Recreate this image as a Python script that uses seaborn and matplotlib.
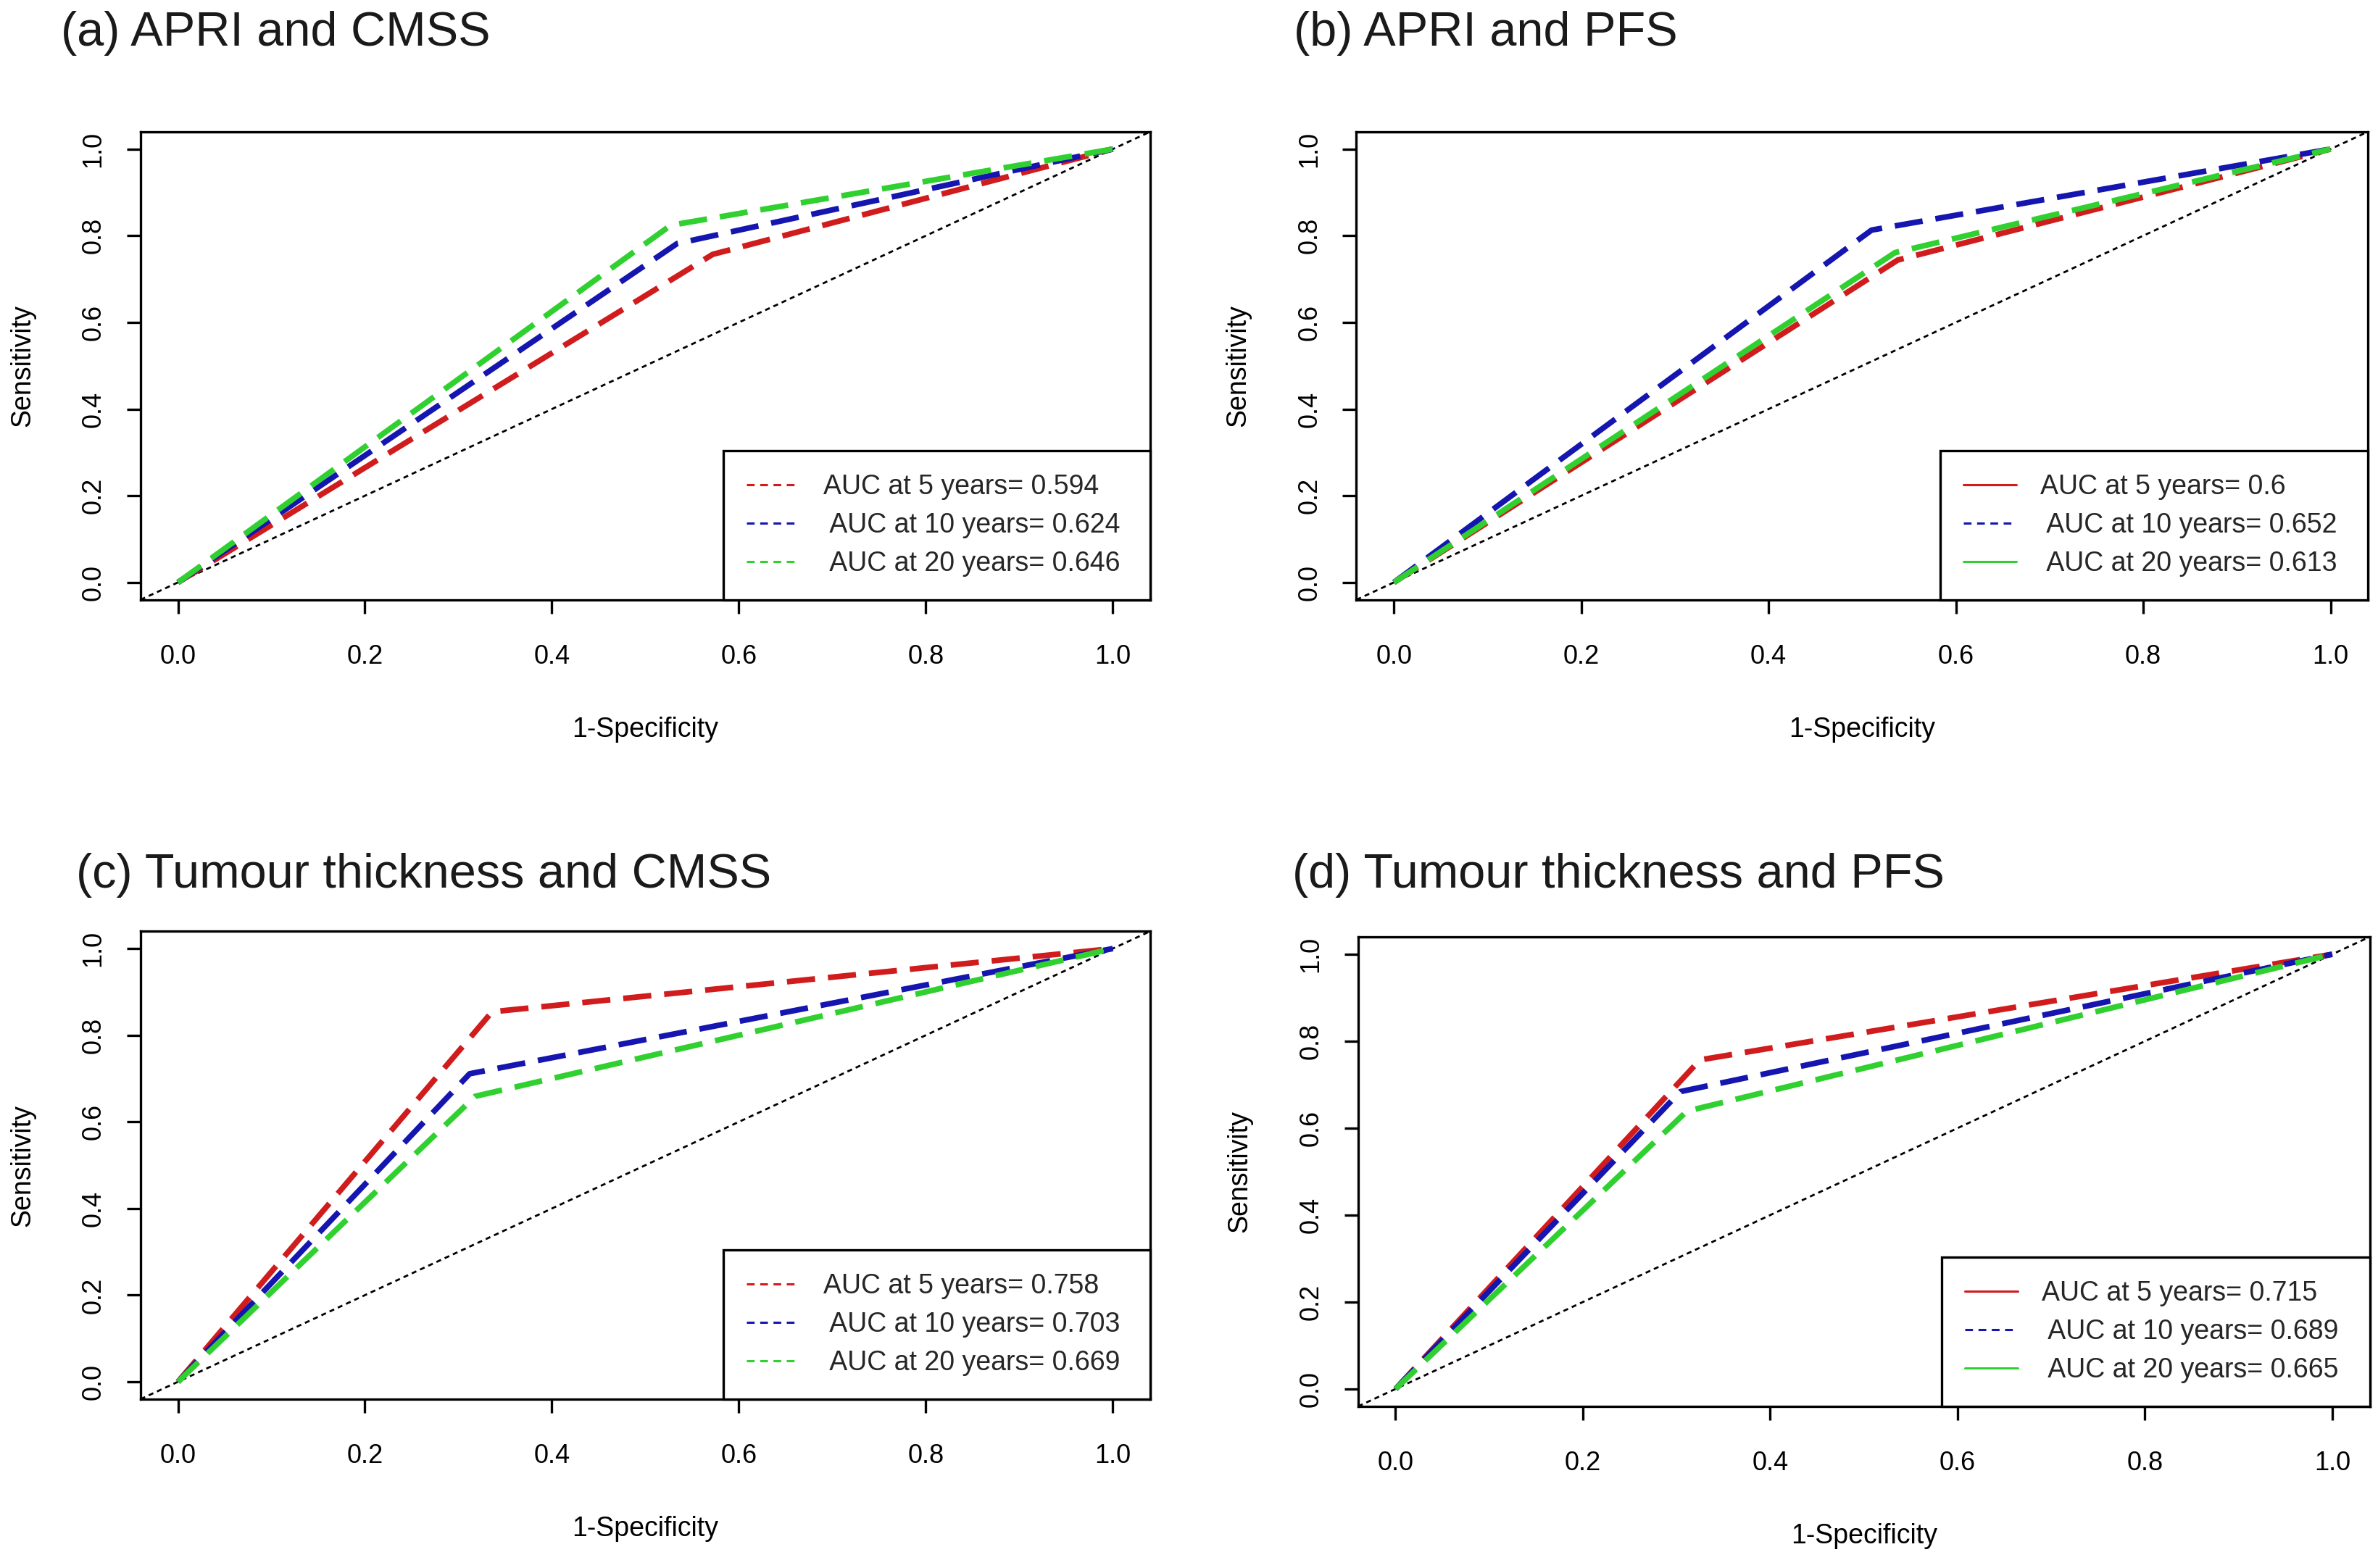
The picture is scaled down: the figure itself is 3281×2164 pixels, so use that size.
import pandas as pd
import seaborn as sns
import matplotlib.pyplot as plt
from matplotlib.lines import Line2D

HORIZONS = ["5 years", "10 years", "20 years"]
COLORS = ["#D01C1C", "#1515B0", "#2FD02F"]
TICKS = [0.0, 0.2, 0.4, 0.6, 0.8, 1.0]
TICK_LABELS = ["0.0", "0.2", "0.4", "0.6", "0.8", "1.0"]

# ROC points per follow-up horizon (5, 10, 20 years)
APRI_CMSS_FPR = [[0.0, 0.572, 1.0], [0.0, 0.534, 1.0], [0.0, 0.527, 1.0]]
APRI_CMSS_TPR = [[0.0, 0.757, 1.0], [0.0, 0.782, 1.0], [0.0, 0.824, 1.0]]
APRI_CMSS_AUC = ["0.594", "0.624", "0.646"]

APRI_PFS_FPR = [[0.0, 0.538, 1.0], [0.0, 0.510, 1.0], [0.0, 0.535, 1.0]]
APRI_PFS_TPR = [[0.0, 0.744, 1.0], [0.0, 0.813, 1.0], [0.0, 0.761, 1.0]]
APRI_PFS_AUC = ["0.6", "0.652", "0.613"]

TT_CMSS_FPR = [[0.0, 0.336, 1.0], [0.0, 0.312, 1.0], [0.0, 0.318, 1.0]]
TT_CMSS_TPR = [[0.0, 0.854, 1.0], [0.0, 0.711, 1.0], [0.0, 0.659, 1.0]]
TT_CMSS_AUC = ["0.758", "0.703", "0.669"]

TT_PFS_FPR = [[0.0, 0.325, 1.0], [0.0, 0.304, 1.0], [0.0, 0.311, 1.0]]
TT_PFS_TPR = [[0.0, 0.757, 1.0], [0.0, 0.684, 1.0], [0.0, 0.639, 1.0]]
TT_PFS_AUC = ["0.715", "0.689", "0.665"]

TITLES = ["(a) APRI and CMSS", "(b) APRI and PFS",
          "(c) Tumour thickness and CMSS", "(d) Tumour thickness and PFS"]

sns.set_theme(style="white")
plt.rcParams["font.family"] = ["Liberation Sans", "DejaVu Sans"]

fig = plt.figure(figsize=(16.405, 10.82), dpi=200)

panels = [
    (TITLES[0], APRI_CMSS_FPR, APRI_CMSS_TPR, APRI_CMSS_AUC, "dashed",
     [0.0591, 0.6175, 0.4246, 0.2985], (0.0255, 0.9787)),
    (TITLES[1], APRI_PFS_FPR, APRI_PFS_TPR, APRI_PFS_AUC, "mixed",
     [0.5704, 0.6175, 0.4254, 0.2985], (0.544, 0.9787)),
    (TITLES[2], TT_CMSS_FPR, TT_CMSS_TPR, TT_CMSS_AUC, "dashed",
     [0.0591, 0.1077, 0.4246, 0.2984], (0.0319, 0.442)),
    (TITLES[3], TT_PFS_FPR, TT_PFS_TPR, TT_PFS_AUC, "mixed",
     [0.5711, 0.1031, 0.4254, 0.2994], (0.5434, 0.442)),
]

for title, fpr, tpr, auc, leg_style, rect, tpos in panels:
    ax = fig.add_axes(rect)

    rows = []
    for h, xs, ys in zip(HORIZONS, fpr, tpr):
        for x, y in zip(xs, ys):
            rows.append({"fpr": x, "tpr": y, "horizon": h})
    df = pd.DataFrame(rows)

    # chance line
    ax.axline((0, 0), slope=1, color="black", lw=1.0, dashes=(2.5, 2.0))

    sns.lineplot(data=df, x="fpr", y="tpr", hue="horizon", style="horizon",
                 hue_order=HORIZONS, style_order=HORIZONS,
                 palette=dict(zip(HORIZONS, COLORS)),
                 dashes={h: (5.0, 2.3) for h in HORIZONS},
                 lw=2.8, sort=False, estimator=None, legend=False, ax=ax)

    ax.set_xlim(-0.04, 1.04)
    ax.set_ylim(-0.04, 1.04)
    ax.set_xticks(TICKS)
    ax.set_xticklabels(TICK_LABELS)
    ax.set_yticks(TICKS)
    ax.set_yticklabels(TICK_LABELS)
    ax.tick_params(direction="out", length=7, width=1.2, color="black",
                   labelsize=13, labelcolor="black")
    ax.tick_params(axis="x", pad=15, bottom=True)
    ax.tick_params(axis="y", pad=10, left=True)
    plt.setp(ax.get_yticklabels(), rotation=90, va="center")
    for sp in ax.spines.values():
        sp.set_color("black")
        sp.set_linewidth(1.2)

    ax.set_xlabel("1-Specificity", fontsize=13.5, color="black", va="center")
    ax.xaxis.set_label_coords(0.5, -0.277)
    ax.set_ylabel("Sensitivity", fontsize=13.5, color="black", va="center")
    ax.yaxis.set_label_coords(-0.117, 0.5)

    if leg_style == "dashed":
        styles = ["--", "--", "--"]
    else:
        styles = ["-", "--", "-"]
    handles = []
    for c, ls in zip(COLORS, styles):
        ln = Line2D([], [], color=c, lw=1.1, linestyle=ls)
        if ls == "--":
            ln.set_dashes((3.5, 2.5))
        handles.append(ln)
    labels = ["AUC at " + HORIZONS[0] + "= " + auc[0],
              " AUC at " + HORIZONS[1] + "= " + auc[1],
              " AUC at " + HORIZONS[2] + "= " + auc[2]]
    leg = ax.legend(handles, labels, loc="lower left",
                    bbox_to_anchor=(0.577, 0.0, 0.423, 0.33), mode="expand",
                    borderaxespad=0, fontsize=13.5, frameon=True,
                    fancybox=False, framealpha=1, edgecolor="black",
                    borderpad=0.85, labelspacing=0.45, handlelength=1.95,
                    handletextpad=0.88)
    leg.get_frame().set_linewidth(1.2)

    fig.text(tpos[0], tpos[1], title, fontsize=24, ha="left", va="center",
             color="#1a1a1a")

fig.savefig("out.png", dpi=200)
